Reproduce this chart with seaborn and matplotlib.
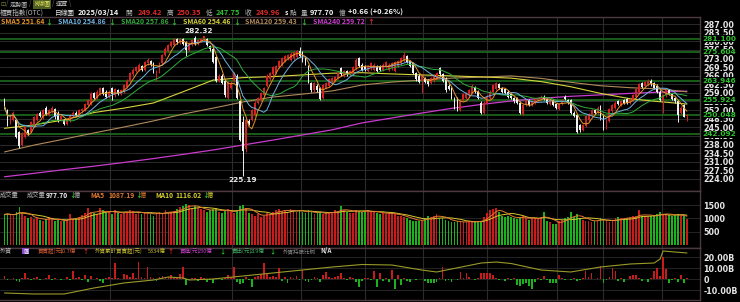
import numpy as np
import pandas as pd
import matplotlib
matplotlib.use("Agg")
import matplotlib.pyplot as plt
import seaborn as sns

# ---------------- data ----------------
opens = [
 256, 252, 247, 248, 248, 243, 238, 241, 244, 243,
 246, 248, 251, 249, 253, 250, 251.5, 252.5, 251, 248,
 248, 246.5, 247.5, 249.5, 251, 249.5, 251.5, 252, 254, 254.5,
 259, 257, 258.5, 261, 259.5, 257.5, 261, 258, 260, 258.5,
 259.5, 261.5, 264, 266.5, 268, 268.5, 270, 268.5, 271, 272,
 271, 264.5, 267.5, 271, 274.5, 276, 278, 278.5, 281, 279.5,
 281, 279.5, 276.5, 278.5, 281.5, 279, 280, 280.5, 281, 278,
 277, 273.5, 264, 266, 264, 257, 261, 264, 266, 255.5,
 247, 236, 247.5, 248, 250, 255, 256, 258, 262, 264.5,
 266.5, 267, 269.5, 270.5, 272, 273, 272.5, 273, 273.5, 276,
 275.5, 273, 270, 263, 260, 262, 261, 257, 261, 262,
 263.5, 264, 265, 269, 266, 268, 266.5, 267, 269, 273,
 270.5, 270, 268, 269, 268.5, 270, 270, 268.5, 269.5, 268.5,
 269, 268, 270, 271, 272, 274, 272, 271, 267, 266,
 264, 265, 264, 263, 264, 265, 269, 266.5, 265, 262,
 261, 257, 257, 252, 256, 257, 258, 259, 261.5, 259.5,
 255, 251, 255, 257, 259.5, 260.5, 262.5, 261, 260.5, 259.5,
 258.5, 257, 257, 255, 250.5, 254, 256, 254, 255, 256,
 256.5, 257.5, 256.5, 254.5, 256, 254.5, 252.5, 254.5, 257.5, 256,
 256, 251, 250, 246, 244, 245.5, 248, 250, 252, 251,
 253.5, 250, 245, 247.5, 251.5, 253, 255.5, 254, 256, 256.5,
 255, 256, 257.5, 259.5, 263, 262, 262.5, 264, 263, 262,
 259.5, 256, 258, 260, 258.5, 257, 255.5, 251, 254, 249.42]
closes = [
 253.5, 246, 249.5, 251, 241, 237.5, 242.5, 245, 242.5, 247,
 249, 250.5, 249.5, 252, 250.5, 252, 253, 249, 247.5, 249.5,
 246.5, 248, 250, 251, 250, 252, 252.5, 254.5, 256, 259,
 257, 259.5, 261, 258.5, 257.5, 259.5, 258.5, 260.5, 258.5, 260,
 262, 264, 267, 268.5, 269.5, 270.5, 268.5, 271.5, 272.5, 270.5,
 267.5, 268, 271, 274.5, 277, 278.5, 279.5, 281, 279.5, 281,
 279, 276.5, 279, 280.5, 279, 280.5, 281, 282, 278.5, 277,
 271.5, 264, 266, 263, 258, 263.5, 263, 267, 257, 240,
 235.5, 248, 246.5, 252, 255, 257, 259, 261, 266, 267,
 269.5, 270, 272, 273, 274, 274.5, 275, 275.5, 276, 274,
 272, 271, 263.5, 260, 263, 260, 256.5, 262, 263, 264.5,
 265, 265.5, 267, 266.5, 268, 266.5, 268, 269.5, 272.5, 270,
 268.5, 268.5, 270, 271, 270.5, 268, 268.5, 270.5, 271.5, 270.5,
 271, 271.5, 272, 273, 274.5, 271.5, 270, 267, 264.5, 263.5,
 266, 263.5, 262.5, 265, 266, 267, 266.5, 264, 260, 260.5,
 257, 253, 252, 256, 258.5, 259, 260, 262, 259.5, 257,
 251, 255, 257.5, 259.5, 262, 263, 261, 259.5, 259, 257.5,
 257, 255.5, 255, 251, 254, 256, 254, 255.5, 256.5, 257,
 257.5, 256.5, 255, 256, 254, 253, 254.5, 256, 256.5, 255,
 251, 249.5, 243, 244, 246, 249.5, 250.5, 252, 251, 253,
 248.5, 245, 248, 252.5, 254, 255, 254.5, 255.5, 255, 255,
 256.5, 258, 260.5, 262.5, 261.5, 263.5, 264, 262.5, 261, 259.5,
 256, 258, 260, 258.5, 256.5, 255.5, 250, 253, 249.3, 249.96]
highs = [
 257, 252.5, 250.5, 251.5, 248.5, 243.5, 243, 245.5, 244.5, 247.5,
 249.5, 251, 251.5, 252.5, 253.5, 252.5, 253.5, 253, 251.5, 250,
 248.5, 248.5, 250.5, 251.5, 251.5, 252.5, 253, 255, 256.5, 259.5,
 259.5, 260, 261.5, 261.5, 260, 260, 261.5, 261, 260.5, 260.5,
 262.5, 264.5, 267.5, 269, 270, 271, 270.5, 272, 273, 272.5,
 271.5, 268.5, 271.5, 275, 277.5, 279, 280, 281.5, 281.5, 281.5,
 281.5, 280, 279.5, 281, 282, 281, 281.5, 282.32, 281.5, 278.5,
 277.5, 274, 266.5, 266.5, 264.5, 264, 264, 267.5, 266.5, 256,
 249.5, 248.5, 248.5, 252.5, 255.5, 257.5, 259.5, 261.5, 266.5, 267.5,
 270, 270.5, 272.5, 273.5, 274.5, 275, 275.5, 276, 276.5, 277.5,
 276, 273.5, 270.5, 263.5, 263.5, 262.5, 261.5, 262.5, 263.5, 265,
 265.5, 266, 267.5, 269.5, 268.5, 268.5, 268.5, 270, 273, 273.5,
 271, 270.5, 270.5, 271.5, 271, 270.5, 270.5, 271, 272, 271,
 271.5, 272, 272.5, 273.5, 275.5, 274.5, 272.5, 271.5, 267.5, 266.5,
 266.5, 265.5, 264.5, 265.5, 266.5, 267.5, 269.5, 267, 265.5, 262.5,
 261.5, 257.5, 257.5, 256.5, 259, 259.5, 260.5, 262.5, 262, 260,
 255.5, 255.5, 258, 260, 262.5, 263.5, 263, 261.5, 261, 260,
 259, 257.5, 257.5, 255.5, 254.5, 256.5, 256.5, 256, 257, 257.5,
 258, 258, 257, 256.5, 256.5, 255, 255, 256.5, 258, 256.5,
 256.5, 251.5, 250.5, 246.5, 246.5, 250, 251, 252.5, 252.5, 253.5,
 254, 250.5, 248.5, 253, 254.5, 255.5, 256, 256, 256.5, 257,
 257, 258.5, 261, 263, 263.5, 264, 264.5, 264.5, 263.5, 262.5,
 260, 258.5, 260.5, 260.5, 259, 257.5, 256, 253.5, 254.5, 250.35]
lows = [
 252.5, 245.5, 246.5, 247.5, 240.5, 236.5, 237.5, 240.5, 242, 242.5,
 245.5, 247.5, 249, 248.5, 250, 249.5, 251, 248.5, 247, 247.5,
 246, 246, 247, 249, 249.5, 249, 251, 251.5, 253.5, 254,
 256.5, 256.5, 258, 258, 257, 257, 256, 257.5, 258, 258,
 259, 261, 263.5, 266, 267.5, 268, 268, 268, 270.5, 270,
 267, 264, 267, 270.5, 274, 275.5, 277.5, 278, 279, 279,
 278.5, 274, 276, 278, 278.5, 278.5, 279.5, 280, 278, 276,
 271, 263.5, 263.5, 262.5, 257.5, 256.5, 260.5, 263.5, 256.5, 239.5,
 225.19, 235, 246, 247.5, 249.5, 254.5, 255.5, 257.5, 261.5, 264,
 266, 266.5, 269, 270, 271.5, 272.5, 272, 272.5, 273, 273.5,
 271.5, 270.5, 263, 259.5, 259.5, 259.5, 256, 256.5, 260.5, 261.5,
 263, 263.5, 264.5, 266, 265.5, 266, 266, 266.5, 268.5, 269.5,
 268, 268, 267.5, 268.5, 268, 267.5, 268, 268, 269, 268,
 268.5, 267.5, 269.5, 270.5, 271.5, 271, 269.5, 266.5, 264, 263,
 259, 263, 262, 262.5, 263.5, 264.5, 266, 263.5, 259.5, 260,
 256.5, 252.5, 251.5, 251.5, 255.5, 256.5, 257.5, 258.5, 259, 256.5,
 250.5, 250.5, 254.5, 256.5, 259, 260, 260.5, 259, 258.5, 257,
 256.5, 255, 254.5, 250.5, 250, 253.5, 253.5, 253.5, 254.5, 255.5,
 256, 256, 254.5, 254, 253.5, 252.5, 252, 254, 256, 254.5,
 250.5, 249, 242.5, 243, 243.5, 245, 247.5, 249.5, 250.5, 250.5,
 248, 244, 244.5, 247, 251, 252.5, 254, 253.5, 254.5, 254.5,
 254.5, 255.5, 257, 259, 261, 261.5, 262, 262, 260.5, 259,
 255.5, 251, 257.5, 258, 256, 255, 247, 250.5, 249, 247.75]
volume = [
 1150, 1180, 1120, 1100, 1250, 1420, 1200, 1080, 1000, 1050,
 980, 1000, 950, 920, 960, 1060, 940, 900, 950, 920,
 900, 930, 1150, 980, 1000, 1050, 1120, 1200, 1400, 1250,
 1200, 1180, 1380, 1300, 1200, 1250, 1180, 1300, 1220, 1150,
 1200, 1250, 1300, 1280, 1180, 1220, 1150, 1200, 1250, 1150,
 1100, 1200, 1250, 1180, 1300, 1220, 1250, 1280, 1350, 1420,
 1450, 1560, 1500, 1400, 1450, 1380, 1350, 1300, 1250, 1300,
 1350, 1400, 1250, 1200, 1300, 1350, 1250, 1200, 1300, 1450,
 1520, 1380, 1200, 1150, 1100, 1180, 1050, 1100, 1200, 1150,
 1250, 1300, 1350, 1280, 1300, 1250, 1350, 1300, 1250, 1280,
 1250, 1200, 1300, 1250, 1150, 1200, 1250, 1180, 1200, 1220,
 1250, 1300, 1280, 1480, 1300, 1250, 1200, 1220, 1300, 1260,
 1250, 1280, 1320, 1250, 1230, 1200, 1180, 1220, 1150, 1200,
 1180, 1150, 1100, 1080, 1050, 1000, 950, 920, 900, 920,
 950, 1000, 1080, 1050, 1100, 1180, 1000, 1020, 950, 900,
 880, 850, 900, 870, 850, 880, 900, 850, 880, 900,
 920, 1050, 1200, 1300, 1350, 1400, 1250, 1100, 1050, 1080,
 1050, 1000, 980, 1050, 1080, 1000, 950, 1000, 1020, 980,
 1050, 1250, 900, 850, 800, 780, 900, 950, 1000, 1050,
 1230, 1050, 1150, 1000, 950, 900, 920, 880, 900, 950,
 1000, 950, 900, 880, 900, 1000, 1050, 1000, 980, 1020,
 1050, 1080, 1100, 1300, 1100, 1080, 1050, 1100, 1120, 1150,
 1250, 1150, 1150, 1120, 1100, 1120, 1150, 1100, 1080, 977.70]
foreign_net = [  # 外資買賣超, billions
 3.0, -1.0, 0.5, 1.2, -1.5, -2.0, 1.0, 5.5, 0.8, -0.6,
 1.5, 2.0, -0.8, 0.6, 1.2, 4.0, -0.5, 1.0, 0.4, -0.8,
 0.6, 1.8, -1.0, 7.6, 0.8, 2.0, -0.6, 4.0, -2.0, 3.0,
 0.5, 1.0, -1.2, -3.0, 0.8, 2.5, 1.5, 15.0, 1.0, 0.5,
 5.0, 4.0, 2.0, 5.5, 1.0, 16.0, 2.5, 1.5, 11.5, 2.0,
 1.0, -1.5, 2.0, 3.0, 1.5, 2.0, 3.5, 1.0, 2.5, 5.0,
 11.5, -5.0, -1.0, 1.5, 0.8, -1.5, 2.0, 1.0, -2.5, -1.0,
 -3.0, 0.8, 1.5, -1.0, 1.0, 3.5, 2.0, 11.5, -2.0, -4.0,
 -3.5, 2.5, -1.0, -6.7, 2.0, 3.0, 4.5, 14.5, 5.0, 2.0,
 3.0, 2.0, 10.0, -1.5, 2.5, -3.6, 2.0, 1.5, 3.0, -1.0,
 8.5, -1.5, -2.5, -1.0, 2.0, 1.5, -2.0, 3.5, 7.0, 2.5,
 1.5, 2.0, 3.0, 5.5, 1.0, -1.0, 2.0, 1.5, -2.0, -6.7,
 -1.5, 0.8, 1.5, -1.0, 8.0, -6.7, 5.5, -1.5, 1.0, -2.0,
 8.5, -9.0, 4.0, -5.0, 1.0, -1.5, -2.0, 0.5, -1.0, 0.3,
 0.5, -1.5, -3.6, -3.0, -3.6, -2.5, 1.0, 11.0, -1.5, -1.0,
 -2.0, 0.5, -1.0, 7.0, 1.5, 5.5, 2.0, 0.5, -0.5, 1.0,
 5.5, 5.5, 6.0, 5.5, 4.0, 1.5, -1.0, 0.5, -1.5, 0.8,
 -0.5, 1.0, -5.0, -6.5, -4.0, -3.0, -6.0, -9.0, -2.0, 1.0,
 -1.0, 3.0, -0.5, -3.6, -3.0, -3.6, 4.0, 1.0, -0.5, 0.5,
 -1.0, 0.8, -1.5, -0.5, 1.0, 8.0, 2.0, 5.5, 0.5, 1.0,
 12.0, -3.0, -1.0, 2.0, 10.0, 8.0, -1.5, 1.0, -2.0, 0.5,
 3.0, 4.0, 3.5, 1.0, -1.5, 0.5, -2.0, 1.5, 8.0, 10.0,
 3.0, 20.6, 9.0, -3.6, -1.0, 0.8, -2.0, 4.0, -3.0, 1.07]

# long moving averages and foreign cumulative line, read at sample bars
sma_idx = [0, 10, 20, 30, 40, 50, 60, 70, 80, 90, 100, 110, 120, 130, 140,
           150, 160, 170, 180, 190, 200, 210, 220, 229]
sma60 = [244.6, 246.0, 248.0, 251.0, 252.8, 254.9, 259.5, 264.2, 265.2, 265.6,
         266.3, 267.0, 267.2, 266.7, 266.3, 265.9, 265.5, 265.0, 263.6, 261.5,
         258.8, 256.6, 255.4, 254.46]
sma120 = [235.0, 237.8, 240.2, 242.7, 245.1, 247.6, 250.4, 252.8, 255.3, 257.3,
          258.5, 259.8, 262.2, 263.4, 264.2, 265.0, 265.4, 265.9, 264.9, 263.3,
          261.9, 261.1, 260.6, 259.43]
sma240 = [224.9, 226.3, 227.8, 229.2, 230.7, 232.3, 234.0, 235.8, 237.8, 239.8,
          241.9, 244.0, 246.8, 248.8, 250.8, 252.7, 254.3, 255.7, 256.8, 257.6,
          258.2, 258.8, 259.3, 259.72]
cum_idx = [0, 10, 20, 25, 30, 40, 50, 55, 60, 62, 70, 80, 90, 100, 110, 120, 130,
           140, 145, 150, 160, 165, 170, 180, 190, 200, 210, 218, 220, 221, 225, 229]
foreign_cum = [3734, 3694, 3694, 3814, 3934, 4134, 4254, 4374, 4334, 4254, 4294,
               4414, 4534, 4654, 4774, 4874, 4854, 4654, 4574, 4694, 4934, 4974,
               4914, 4654, 4574, 4774, 4894, 4934, 5094, 5414, 5374, 5334]

support_levels = [281.100, 275.604, 263.946, 255.924, 250.048, 242.092]
price_ticks = [287, 283.5, 280, 276.5, 273, 269.5, 266, 262.5, 259, 255.5, 252,
               248.5, 245, 241.5, 238, 234.5, 231, 227.5, 224]
vol_ticks = [500, 1000, 1500]
foreign_ticks = [20, 10, 0, -10]
foreign_tick_labels = ["20.00B", "10.00B", "0", "-10.00B"]
month_lines = [35.5, 76.5, 99.5, 121, 140.5, 162, 185.5, 201, 220.5]

# ---------------- styling ----------------
sns.set_theme(style="dark", rc={"axes.facecolor": "black", "figure.facecolor": "black"})
FAM = ["Noto Sans CJK TC", "DejaVu Sans"]
plt.rcParams["font.family"] = FAM

W, H = 740, 302
fig = plt.figure(figsize=(W / 100, H / 100), dpi=100, facecolor="black")


def rect(x0, y0, x1, y1):
    return [x0 / W, 1 - y1 / H, (x1 - x0) / W, (y1 - y0) / H]


ax = fig.add_axes(rect(0, 17, 700, 190.5))
axv = fig.add_axes(rect(0, 190.5, 700, 247.5))
axf = fig.add_axes(rect(0, 247.5, 700, 300))
axc = fig.add_axes(rect(0, 247.5, 700, 300), facecolor="none")

n = len(closes)
idx = np.arange(n)
df = pd.DataFrame({"i": idx, "o": opens, "h": highs, "l": lows, "c": closes,
                   "v": volume, "f": foreign_net})
up = df["c"] >= df["o"]
XLIM = (-1.51, (700 - 4.5) / 2.98)

RED = "#d42222"
WHITE = "#f0f0f0"
GRID = "#2b2b2b"
BORDER = "#4d3940"

for a in (ax, axv, axf):
    a.set_facecolor("black")
    for s in a.spines.values():
        s.set_color(BORDER)
        s.set_linewidth(1.0)
    a.spines["left"].set_visible(False)
    for m in month_lines:
        a.axvline(m, color=GRID, lw=0.8, zorder=0)
    a.grid(False)

# ---- price panel ----
for t in price_ticks:
    ax.axhline(t, color=GRID, lw=0.7, zorder=0)
for s in support_levels:
    ax.axhline(s, color="#1d6b1d", lw=1.2, zorder=1)

ax.vlines(df["i"], df["l"], df["h"], colors=np.where(up, RED, WHITE), lw=0.7, zorder=3)
body = (df["c"] - df["o"]).where((df["c"] - df["o"]).abs() > 0.25,
                                 np.where(up, 0.25, -0.25))
ax.bar(df["i"], body, bottom=df["o"], width=0.64, color=np.where(up, RED, WHITE),
       linewidth=0, zorder=4)

sma_cols = {"SMA5": "#e59428", "SMA10": "#6fb3e0", "SMA20": "#2fae3a",
            "SMA60": "#d6d43a", "SMA120": "#b08a5a", "SMA240": "#c93ccd"}
df["sma5"] = df["c"].rolling(5, min_periods=1).mean()
df["sma10"] = df["c"].rolling(10, min_periods=1).mean()
df["sma20"] = df["c"].rolling(20, min_periods=1).mean()
sns.lineplot(x=sma_idx, y=sma240, ax=ax, color=sma_cols["SMA240"], lw=0.9, zorder=2)
sns.lineplot(x=sma_idx, y=sma120, ax=ax, color=sma_cols["SMA120"], lw=0.8, zorder=2)
sns.lineplot(x=sma_idx, y=sma60, ax=ax, color=sma_cols["SMA60"], lw=0.8, zorder=2)
sns.lineplot(data=df, x="i", y="sma20", ax=ax, color=sma_cols["SMA20"], lw=0.7, zorder=5)
sns.lineplot(data=df, x="i", y="sma10", ax=ax, color=sma_cols["SMA10"], lw=0.7, zorder=5)
sns.lineplot(data=df, x="i", y="sma5", ax=ax, color=sma_cols["SMA5"], lw=0.7, zorder=5)

ax.set_xlim(*XLIM)
ax.set_ylim(287 - 166.5 / 2.46, 287 + 7 / 2.46)
ax.yaxis.tick_right()
ax.set_yticks(price_ticks)
ax.set_yticklabels([f"{t:.2f}" for t in price_ticks])
ax.tick_params(axis="y", colors="#e6e6e6", labelsize=5.8, pad=2.5, length=0)
ax.tick_params(axis="x", bottom=False, labelbottom=False)
for lab in ax.get_yticklabels():
    lab.set_fontweight("bold")
    lab.set_family("DejaVu Sans")
for s in support_levels:
    ax.text(1.004, s, f"{s:.3f}", transform=ax.get_yaxis_transform(), color="#2ec02e",
            fontsize=5.3, fontweight="bold", va="center", ha="left", family="DejaVu Sans",
            bbox=dict(facecolor="black", edgecolor="none", pad=0.2), zorder=10, clip_on=False)
ax.set_xlabel("")
ax.set_ylabel("")
imax = int(np.argmax(highs))
imin = int(np.argmin(lows))
ax.text(imax - 2, highs[imax] + 0.7, f"{highs[imax]:.2f}", color="#e8e8e8", fontsize=5.3,
        ha="center", va="bottom", fontweight="bold", family="DejaVu Sans")
ax.text(imin, lows[imin] - 0.3, f"{lows[imin]:.2f}", color="#e8e8e8", fontsize=5.3,
        ha="center", va="top", fontweight="bold", family="DejaVu Sans")

# ---- volume panel ----
for t in vol_ticks:
    axv.axhline(t, color=GRID, lw=0.6, zorder=0)
axv.bar(df["i"], df["v"], width=0.6, color=np.where(up, "#c81b1b", "#1cb21c"),
        linewidth=0, zorder=2)
df["vma5"] = df["v"].rolling(5, min_periods=1).mean()
df["vma10"] = df["v"].rolling(10, min_periods=1).mean()
sns.lineplot(data=df, x="i", y="vma10", ax=axv, color="#d8c830", lw=0.7, zorder=3)
sns.lineplot(data=df, x="i", y="vma5", ax=axv, color="#e07a30", lw=0.7, zorder=3)
axv.set_xlim(*XLIM)
axv.set_ylim(-(2.5) * 37.6, (245 - 190.5) * 37.6)
axv.yaxis.tick_right()
axv.set_yticks(vol_ticks)
axv.set_yticklabels([str(t) for t in vol_ticks])
axv.tick_params(axis="y", colors="#e6e6e6", labelsize=5.8, pad=2.5, length=0)
axv.tick_params(axis="x", bottom=False, labelbottom=False)
for lab in axv.get_yticklabels():
    lab.set_fontweight("bold")
    lab.set_family("DejaVu Sans")
axv.set_xlabel("")
axv.set_ylabel("")

# ---- foreign investor panel ----
for t in foreign_ticks:
    axf.axhline(t, color=GRID, lw=0.6, zorder=0)
axf.bar(df["i"], df["f"], width=0.6,
        color=np.where(df["f"] >= 0, "#c81b1b", "#1cb21c"), linewidth=0, zorder=2)
axf.set_xlim(*XLIM)
axf.set_ylim(-(300 - 279.3) / 1.1, (279.3 - 247.5) / 1.1)
axf.yaxis.tick_right()
axf.set_yticks(foreign_ticks)
axf.set_yticklabels(foreign_tick_labels)
axf.tick_params(axis="y", colors="#e6e6e6", labelsize=5.8, pad=2.5, length=0)
axf.tick_params(axis="x", bottom=False, labelbottom=False)
for lab in axf.get_yticklabels():
    lab.set_fontweight("bold")
    lab.set_family("DejaVu Sans")
axf.set_xlabel("")
axf.set_ylabel("")

sns.lineplot(x=cum_idx, y=foreign_cum, ax=axc, color="#9a9a2a", lw=0.8)
axc.set_xlim(*XLIM)
axc.set_ylim(5334 - 47 * 40, 5334 + 5.5 * 40)
axc.set_xticks([])
axc.set_yticks([])
axc.set_xlabel("")
axc.set_ylabel("")
axc.grid(False)
for s in axc.spines.values():
    s.set_visible(False)


# ---------------- header texts ----------------
def txt(x, y, s, c, size=5.0, weight="normal", ha="left", **kw):
    fig.text(x / W, 1 - y / H, s, color=c, fontsize=size, fontweight=weight,
             ha=ha, va="center", family=FAM, **kw)


GRAY = "#b8b8b8"
DN = "#2cc02c"
UPC = "#e02828"
# tabs
txt(0.5, 4.2, "⊡", "#8a8a3a", 4.4)
txt(6.0, 4.2, "/", "#6a6a6a", 4.4)
txt(10, 4.2, "走勢圖", GRAY, 4.4)
txt(28.5, 4.2, "/", "#6a6a6a", 4.4)
txt(34, 4.2, "K線圖", "#e8e060", 4.4,
    bbox=dict(facecolor="#4d5f22", edgecolor="none", pad=0.5))
txt(52, 4.2, "/", "#6a6a6a", 4.4)
txt(56, 4.2, "速覽", GRAY, 4.4)
txt(68.5, 4.2, "\\", "#6a6a6a", 4.4)

# quote row
y2 = 12.8
txt(0, y2, "櫃買指數(OTC)", GRAY, 4.8)
txt(55, y2, "日線圖", "#e8e8e8", 4.8)
txt(78, y2, "2025/03/14", "#f4f4f4", 5.4, "bold")
txt(125, y2, "開", GRAY, 4.8)
txt(138, y2, "249.42", UPC, 5.4, "bold")
txt(167, y2, "高", GRAY, 4.8)
txt(177, y2, "250.35", UPC, 5.4, "bold")
txt(206, y2, "低", GRAY, 4.8)
txt(216, y2, "247.75", DN, 5.4, "bold")
txt(245, y2, "收", GRAY, 4.8)
txt(256, y2, "249.96", UPC, 5.4, "bold")
txt(285, y2, "s", "#f4f4f4", 5.0, "bold")
txt(290, y2, "點", GRAY, 4.8)
txt(301, y2, "量", GRAY, 4.8)
txt(310, y2, "977.70", "#f4f4f4", 5.4, "bold")
txt(339, y2, "億", GRAY, 4.8)
txt(348, y2, "+0.66 (+0.26%)", "#f4f4f4", 5.4, "bold")

# SMA legend row
y3 = 21.7
items = [(1, "SMA5 251.64", sma_cols["SMA5"], 45, "↓", DN),
         (58, "SMA10 254.86", sma_cols["SMA10"], 108, "↓", DN),
         (121, "SMA20 257.86", sma_cols["SMA20"], 170, "↓", DN),
         (183, "SMA60 254.46", sma_cols["SMA60"], 233, "↓", DN),
         (245, "SMA120 259.43", sma_cols["SMA120"], 300, "↓", DN),
         (313, "SMA240 259.72", sma_cols["SMA240"], 367, "↑", UPC)]
for x0, s, c, xa, arr, ca in items:
    txt(x0, y3, s, c, 5.0, "bold")
    txt(xa, y3, arr, ca, 5.0, "bold")

# volume header
y4 = 195.3
txt(0, y4, "成交量", GRAY, 4.5)
txt(27, y4, "成交量", GRAY, 4.5)
txt(46, y4, "977.70", "#f4f4f4", 4.9, "bold")
txt(69.5, y4, "↓", DN, 4.8, "bold")
txt(74, y4, "億", GRAY, 4.5)
txt(90, y4, "MA5", "#e07a30", 4.9, "bold")
txt(108, y4, "1087.19", "#e07a30", 4.9, "bold")
txt(135, y4, "↓", DN, 4.8, "bold")
txt(139.5, y4, "億", "#e07a30", 4.5)
txt(155, y4, "MA10", "#d8d030", 4.9, "bold")
txt(175, y4, "1116.02", "#d8d030", 4.9, "bold")
txt(202, y4, "↓", DN, 4.8, "bold")
txt(206.5, y4, "億", "#d8d030", 4.5)

# foreign header
y5 = 251
txt(0, y5, "外資", GRAY, 4.4)
txt(23, y5, "匯", "#f0f0f0", 3.6, bbox=dict(facecolor="#8a4ad0", edgecolor="none", pad=0.5))
txt(38, y5, "買賣超(元)", "#d05a30", 4.0)
txt(60, y5, "10.7億", "#d05a30", 4.0)
txt(82, y5, "↑", UPC, 4.4, "bold")
txt(95, y5, "外資累計買賣超(元)", "#c8c030", 4.0)
txt(148, y5, "5334億", "#c8c030", 4.0)
txt(167, y5, "↑", UPC, 4.4, "bold")
txt(180, y5, "買進(元)", "#c640c6", 4.0)
txt(198, y5, "230億", "#c640c6", 4.0)
txt(219, y5, "↓", DN, 4.4, "bold")
txt(232, y5, "賣出(元)", "#40a860", 4.0)
txt(250, y5, "219億", "#40a860", 4.0)
txt(269, y5, "↓", DN, 4.4, "bold")
txt(283, y5, "外資持股比例", "#8a8a8a", 4.0)
txt(320, y5, "N/A", "#e0e0e0", 4.6, "bold")

fig.savefig("out.png", dpi=100, facecolor="black")
